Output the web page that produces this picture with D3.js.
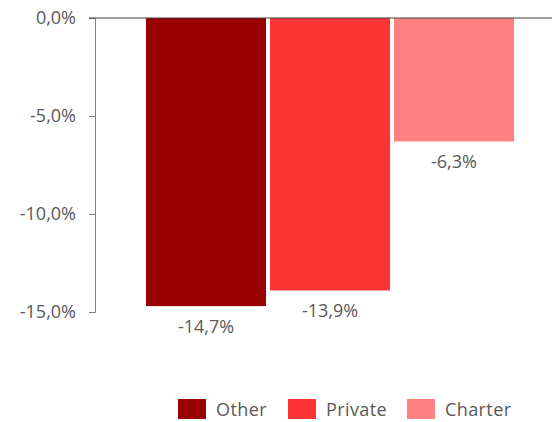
<!DOCTYPE html>
<html>
<head>
<meta charset="utf-8">
<script src="https://cdn.jsdelivr.net/npm/d3@7"></script>
<style>
  body { margin: 0; background: #fff; overflow: hidden; }
  text { font-family: "Open Sans", sans-serif; fill: #595959; }
</style>
</head>
<body>
<div id="chart"></div>
<script>
// Change by school type
const categories = ["Other", "Private", "Charter"];
const values = [-14.7, -13.9, -6.3];
const colors = ["#990000", "#ff3333", "#ff8080"];
const tickValues = [0, -5, -10, -15];

const width = 552, height = 422;
const fmt = v => v.toFixed(1).replace(".", ",") + "%";

const svg = d3.select("#chart").append("svg")
  .attr("width", width)
  .attr("height", height)
  .style("display", "block");

const y = d3.scaleLinear()
  .domain([0, -15])
  .range([18, 312]);

const x = d3.scaleBand()
  .domain(categories)
  .range([144, 516])
  .paddingInner(0.032)
  .paddingOuter(0.016);

const color = d3.scaleOrdinal().domain(categories).range(colors);

// y axis
const yAxis = svg.append("g")
  .attr("transform", "translate(95,0)")
  .call(d3.axisLeft(y).tickValues(tickValues).tickSize(6).tickPadding(13).tickFormat(fmt));
yAxis.select(".domain").attr("stroke", "#808080");
yAxis.selectAll(".tick line").attr("stroke", "#808080");
yAxis.selectAll(".tick text").style("font-size", "18px").attr("fill", "#595959");

// bars
svg.append("g")
  .selectAll("rect")
  .data(categories)
  .join("rect")
  .attr("x", d => x(d))
  .attr("width", x.bandwidth())
  .attr("y", y(0))
  .attr("height", (d, i) => y(values[i]) - y(0))
  .attr("fill", d => color(d));

// zero line
svg.append("line")
  .attr("x1", 89).attr("x2", 552)
  .attr("y1", y(0)).attr("y2", y(0))
  .attr("stroke", "#404040")
  .attr("stroke-width", 1);

// value labels
svg.append("g")
  .selectAll("text")
  .data(categories)
  .join("text")
  .attr("x", d => x(d) + x.bandwidth() / 2)
  .attr("y", (d, i) => y(values[i]) + 27)
  .attr("text-anchor", "middle")
  .style("font-size", "18px")
  .text((d, i) => fmt(values[i]));

// legend
const legendX = [178, 288, 407];
const legend = svg.append("g")
  .selectAll("g")
  .data(categories)
  .join("g")
  .attr("transform", (d, i) => `translate(${legendX[i]},399)`);

legend.append("rect")
  .attr("width", 28)
  .attr("height", 20)
  .attr("fill", d => color(d));

legend.append("text")
  .attr("x", 38)
  .attr("y", 17)
  .style("font-size", "18px")
  .style("letter-spacing", "0.4px")
  .text(d => d);
</script>
</body>
</html>
